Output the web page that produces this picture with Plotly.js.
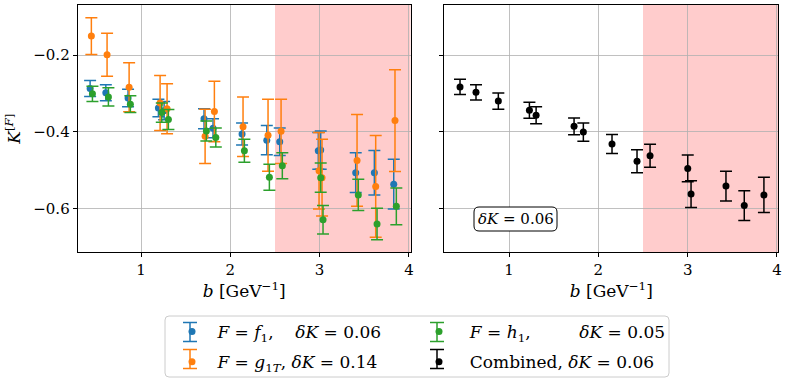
<!DOCTYPE html>
<html><head><meta charset="utf-8">
<script src="https://cdn.plot.ly/plotly-3.0.1.min.js"></script>
<style>html,body{margin:0;padding:0;background:#fff}</style>
</head><body><div id="chart" style="width:789px;height:384px"></div>
<script>
// F = f1 (blue)
const bF1 = [0.429, 0.605, 0.854, 1.194, 1.258, 1.705, 1.806, 2.131, 2.408, 2.553, 2.985, 3.012, 3.404, 3.613, 3.830];
const kF1 = [-0.287, -0.298, -0.312, -0.338, -0.345, -0.366, -0.391, -0.406, -0.422, -0.426, -0.450, -0.448, -0.507, -0.507, -0.537];
const eF1 = [0.021, 0.021, 0.023, 0.023, 0.024, 0.026, 0.025, 0.029, 0.038, 0.036, 0.048, 0.050, 0.052, 0.058, 0.065];
// F = g1T (orange)
const bG1T = [0.443, 0.619, 0.866, 1.213, 1.291, 1.717, 1.821, 2.142, 2.422, 2.568, 2.993, 3.027, 3.419, 3.628, 3.844];
const kG1T = [-0.150, -0.199, -0.284, -0.325, -0.340, -0.412, -0.347, -0.387, -0.409, -0.399, -0.502, -0.520, -0.475, -0.543, -0.371];
const eG1T = [0.048, 0.056, 0.064, 0.072, 0.065, 0.071, 0.079, 0.078, 0.094, 0.084, 0.100, 0.100, 0.120, 0.133, 0.133];
// F = h1 (green)
const bH1 = [0.455, 0.634, 0.880, 1.232, 1.306, 1.731, 1.837, 2.157, 2.437, 2.582, 3.012, 3.038, 3.433, 3.643, 3.859];
const kH1 = [-0.301, -0.309, -0.328, -0.350, -0.368, -0.398, -0.415, -0.450, -0.519, -0.489, -0.520, -0.630, -0.565, -0.641, -0.595];
const eH1 = [0.020, 0.024, 0.022, 0.025, 0.026, 0.026, 0.025, 0.030, 0.034, 0.034, 0.038, 0.037, 0.041, 0.041, 0.048];
// Combined (black)
const bComb = [0.451, 0.630, 0.880, 1.228, 1.303, 1.728, 1.832, 2.153, 2.433, 2.579, 3.001, 3.038, 3.429, 3.634, 3.854];
const kComb = [-0.283, -0.297, -0.320, -0.344, -0.357, -0.386, -0.401, -0.432, -0.477, -0.463, -0.496, -0.563, -0.542, -0.593, -0.565];
const eComb = [0.020, 0.020, 0.021, 0.021, 0.022, 0.022, 0.024, 0.025, 0.030, 0.030, 0.035, 0.035, 0.039, 0.039, 0.046];

const NB = '\u00a0';
const legendNames = [
  NB + '<i>F</i> = <i>f</i><sub>1</sub>,' + NB.repeat(3) + ' <i>δK</i> = 0.06',
  NB + '<i>F</i> = <i>g</i><sub>1<i>T</i></sub>, <i>δK</i> = 0.14',
  NB + NB + '<i>F</i> = <i>h</i><sub>1</sub>,' + NB.repeat(8) + ' <i>δK</i> = 0.05',
  NB + NB + 'Combined, <i>δK</i> = 0.06'
];
const shadeStart = 2.5;
const boxLabel = '<i>δK</i> = 0.06';

const FONT = 'DejaVu Serif, serif';
const colors = ['#1f77b4', '#ff7f0e', '#2ca02c', '#000000'];
function tr(x, y, e, color, name, xa, ya, leg, grp) {
  return {
    type: 'scatter', mode: 'markers', x: x, y: y, name: name,
    xaxis: xa, yaxis: ya, legend: leg, legendgroup: grp,
    marker: {color: color, size: 7},
    error_y: {type: 'data', array: e, visible: true, color: color, thickness: 1.5, width: 6}
  };
}
const data = [
  tr(bF1, kF1, eF1, colors[0], legendNames[0], 'x', 'y', 'legend', 'a'),
  tr(bG1T, kG1T, eG1T, colors[1], legendNames[1], 'x', 'y', 'legend', 'b'),
  tr(bH1, kH1, eH1, colors[2], legendNames[2], 'x', 'y', 'legend2', 'c'),
  tr(bComb, kComb, eComb, colors[3], legendNames[3], 'x2', 'y2', 'legend2', 'd')
];

const W = 789, H = 384;
function px(x) { return x / W; }
function py(y) { return 1 - y / H; }
function rrect(x0, y0, x1, y1, r) {
  const rx = r / W, ry = r / H;
  const X0 = px(x0), X1 = px(x1), Y0 = py(y1), Y1 = py(y0);
  return `M${X0 + rx},${Y0} L${X1 - rx},${Y0} Q${X1},${Y0} ${X1},${Y0 + ry} L${X1},${Y1 - ry} Q${X1},${Y1} ${X1 - rx},${Y1} L${X0 + rx},${Y1} Q${X0},${Y1} ${X0},${Y1 - ry} L${X0},${Y0 + ry} Q${X0},${Y0} ${X0 + rx},${Y0} Z`;
}
// legend error-bar glyphs (drawn as shapes behind the legend markers)
const glyphPos = [[190, 332], [190, 359], [437, 332], [437, 359]];
const glyphColors = [colors[0], colors[1], colors[2], colors[3]];
const glyphShapes = [];
glyphPos.forEach(function (p, i) {
  const c = glyphColors[i];
  const ln = {color: c, width: 1.5};
  glyphShapes.push({type: 'line', xref: 'paper', yref: 'paper', x0: px(p[0]), x1: px(p[0]), y0: py(p[1] - 9.5), y1: py(p[1] + 9.5), line: ln, layer: 'above'});
  glyphShapes.push({type: 'line', xref: 'paper', yref: 'paper', x0: px(p[0] - 7), x1: px(p[0] + 7), y0: py(p[1] - 9.5), y1: py(p[1] - 9.5), line: ln, layer: 'above'});
  glyphShapes.push({type: 'line', xref: 'paper', yref: 'paper', x0: px(p[0] - 7), x1: px(p[0] + 7), y0: py(p[1] + 9.5), y1: py(p[1] + 9.5), line: ln, layer: 'above'});
});

const axCommon = {
  showline: true, mirror: true, linecolor: '#000', linewidth: 1,
  ticks: 'outside', ticklen: 4, tickcolor: '#000',
  showgrid: true, gridcolor: '#b0b0b0', gridwidth: 0.8, zeroline: false,
  tickfont: {family: FONT, size: 15, color: '#000'}
};
const yRange = [-0.715, -0.069];
const layout = {
  width: W, height: H,
  margin: {l: 0, r: 0, t: 0, b: 0},
  paper_bgcolor: '#fff', plot_bgcolor: '#fff',
  font: {family: FONT, size: 15, color: '#000'},
  xaxis: Object.assign({}, axCommon, {domain: [77.7 / W, 410.7 / W], range: [0.29, 4.02],
    tickvals: [1, 2, 3, 4], anchor: 'y',
    title: {text: '<i>b</i> [GeV<sup>−1</sup>]', font: {family: FONT, size: 17}, standoff: 3}}),
  yaxis: Object.assign({}, axCommon, {domain: [py(252.3), py(5)], range: yRange,
    tickvals: [-0.6, -0.4, -0.2], ticktext: ['−0.6', '−0.4', '−0.2'], anchor: 'x',
    title: {text: '<i>K</i><sup>[<i>F</i>]</sup>', font: {family: FONT, size: 17}, standoff: 8}}),
  xaxis2: Object.assign({}, axCommon, {domain: [444.3 / W, 778.3 / W], range: [0.275, 4.015],
    tickvals: [1, 2, 3, 4], anchor: 'y2',
    title: {text: '<i>b</i> [GeV<sup>−1</sup>]', font: {family: FONT, size: 17}, standoff: 3}}),
  yaxis2: Object.assign({}, axCommon, {domain: [py(252.3), py(5)], range: yRange,
    tickvals: [-0.6, -0.4, -0.2], showticklabels: false, anchor: 'x2'}),
  showlegend: true,
  legend: {x: px(172), y: py(314), xanchor: 'left', yanchor: 'top', bgcolor: 'rgba(0,0,0,0)',
    borderwidth: 0, font: {family: FONT, size: 17}, tracegroupgap: 5, orientation: 'v'},
  legend2: {x: px(419), y: py(314), xanchor: 'left', yanchor: 'top', bgcolor: 'rgba(0,0,0,0)',
    borderwidth: 0, font: {family: FONT, size: 17}, tracegroupgap: 5, orientation: 'v'},
  shapes: [
    {type: 'rect', xref: 'x', yref: 'y domain', x0: shadeStart, x1: 4.02, y0: 0, y1: 1,
      fillcolor: '#ffcccc', line: {width: 0}, layer: 'below'},
    {type: 'rect', xref: 'x2', yref: 'y2 domain', x0: shadeStart, x1: 4.015, y0: 0, y1: 1,
      fillcolor: '#ffcccc', line: {width: 0}, layer: 'below'},
    {type: 'path', xref: 'paper', yref: 'paper', path: rrect(165, 316, 669, 377, 4),
      fillcolor: 'rgba(255,255,255,0.8)', line: {color: '#cccccc', width: 1}, layer: 'above'},
    {type: 'path', xref: 'paper', yref: 'paper', path: rrect(474, 207, 557, 231, 5),
      fillcolor: '#ffffff', line: {color: '#000', width: 1}, layer: 'above'}
  ].concat(glyphShapes),
  annotations: [
    {xref: 'paper', yref: 'paper', x: px(515.5), y: py(219), text: boxLabel, showarrow: false,
      font: {family: FONT, size: 15, color: '#000'}, xanchor: 'center', yanchor: 'middle'}
  ]
};
Plotly.newPlot('chart', data, layout, {displayModeBar: false, staticPlot: true});
</script>
</body></html>
